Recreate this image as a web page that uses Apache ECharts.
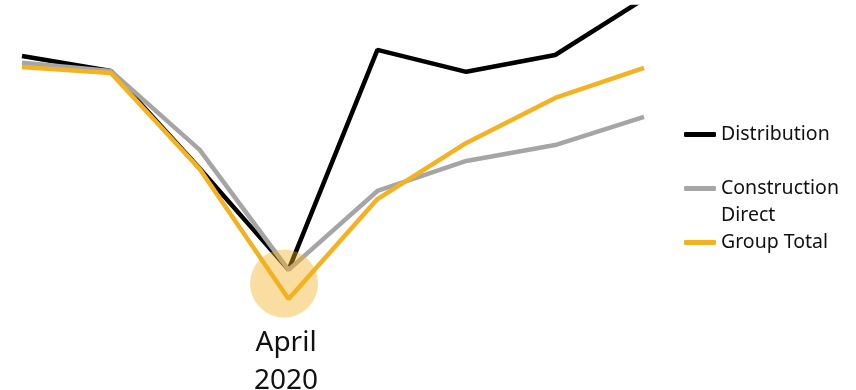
<!DOCTYPE html>
<html>
<head>
<meta charset="utf-8">
<script src="https://cdn.jsdelivr.net/npm/echarts@6/dist/echarts.min.js"></script>
<style>
html,body{margin:0;padding:0;background:#fff;}
#chart{width:856px;height:390px;}
</style>
</head>
<body>
<div id="chart"></div>
<script>
var categories = ['Jan 2020','Feb 2020','Mar 2020','April 2020','May 2020','Jun 2020','Jul 2020','Aug 2020'];
var labeledCategory = 'April 2020';
var distribution = [83, 78, 45.5, 11.7, 85, 77.7, 83.3, 102];
var constructionDirect = [80.7, 78, 51.7, 11.7, 38, 48, 53.3, 62.7];
var groupTotal = [79.3, 77.3, 45.3, 2, 35.3, 54, 69, 79];
var seriesNames = ['Distribution', 'Construction Direct', 'Group Total'];

var chart = echarts.init(document.getElementById('chart'));
var font = 'Noto Sans';
chart.setOption({
  animation: false,
  grid: {left: 22, right: 212, top: 7, bottom: 85, containLabel: false, outerBoundsMode: 'none'},
  xAxis: {
    type: 'category',
    data: categories,
    boundaryGap: false,
    axisLine: {show: false},
    axisTick: {show: false},
    splitLine: {show: false},
    axisLabel: {
      interval: 0,
      margin: 19,
      fontFamily: font,
      fontSize: 28,
      color: '#111',
      lineHeight: 38,
      padding: [0, 5, 0, 0],
      formatter: function (v) { return v === labeledCategory ? 'April\n2020' : ''; }
    }
  },
  yAxis: {
    type: 'value',
    min: 0,
    max: 99.3,
    show: false
  },
  legend: {
    orient: 'vertical',
    left: 684,
    top: 121,
    padding: 0,
    itemWidth: 32,
    itemHeight: 5,
    itemGap: 0,
    icon: 'roundRect',
    textStyle: {fontFamily: font, fontSize: 19.5, color: '#111', lineHeight: 27},
    formatter: function (n) { return n === 'Construction Direct' ? '\nConstruction\nDirect' : n; },
    data: seriesNames
  },
  series: [
    {
      name: seriesNames[0], type: 'line', data: distribution,
      symbol: 'none', lineStyle: {width: 4.5, color: '#000'}, itemStyle: {color: '#000'}, z: 2
    },
    {
      name: seriesNames[1], type: 'line', data: constructionDirect,
      symbol: 'none', lineStyle: {width: 4.5, color: '#a5a5a5'}, itemStyle: {color: '#a5a5a5'}, z: 3
    },
    {
      name: seriesNames[2], type: 'line', data: groupTotal,
      symbol: 'none', lineStyle: {width: 4.5, color: '#f4b120'}, itemStyle: {color: '#f4b120'}, z: 4,
      markPoint: {
        symbol: 'circle',
        symbolSize: 68,
        symbolOffset: [-4.5, -15.5],
        label: {show: false},
        itemStyle: {color: 'rgba(244,177,32,0.42)'},
        data: [{coord: [3, groupTotal[3]]}],
        z: 10
      }
    }
  ]
});
</script>
</body>
</html>
